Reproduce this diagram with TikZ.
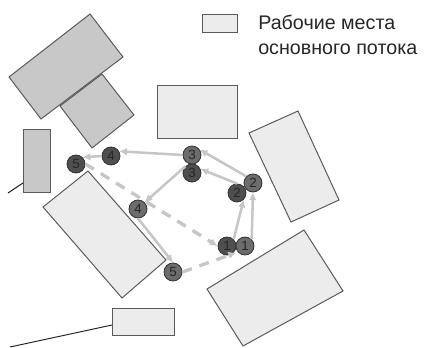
\documentclass[tikz,border=0pt]{standalone}
\usepackage{fontspec}
\setmainfont{Liberation Sans}
\usepackage{tikz}
\usetikzlibrary{calc, positioning, arrows.meta}

\definecolor{benchgray}{HTML}{C8C8C8}
\definecolor{benchpale}{HTML}{ECECEC}
\definecolor{edgegray}{HTML}{5A5A5A}
\definecolor{flowgray}{HTML}{C6C6C6}
\definecolor{stadark}{HTML}{4F4F4F}
\definecolor{stamid}{HTML}{6C6C6C}

\tikzset{
    benchlight/.style={draw=edgegray, line width=0.7pt, fill=benchpale},
    benchdark/.style={benchlight, fill=benchgray},
    lead/.style={draw=black!85, line width=0.7pt},
    station/.style={circle, draw=black!80, line width=0.6pt, inner sep=0pt,
        minimum size=0.45cm, text=black!85, font=\fontsize{9.5}{10}\selectfont},
    sta/.style={station, fill=stadark},
    stb/.style={station, fill=stamid},
    flow/.style={draw=flowgray, line width=1.8pt, -{Latex[length=5.5pt,width=5.5pt]}},
    dashflow/.style={flow, line width=2.4pt, dash pattern=on 0.25cm off 0.2cm},
    legendtext/.style={inner sep=0pt, align=left, text=black!85,
        font=\fontsize{14}{17.5}\selectfont}
}

\begin{document}
\begin{tikzpicture}[x=0.025cm, y=-0.025cm]
    \useasboundingbox (0,0) rectangle (425,347);

    % workplaces
    \draw[benchdark] (90,14) -- (123,57) -- (41,119) -- (9,77) -- cycle;
    \draw[benchdark] (102,74) -- (134,115) -- (92,148) -- (60,106) -- cycle;
    \draw[benchdark] (23,129) rectangle (50,192);
    \draw[benchlight] (157,85) rectangle (237,138);
    \draw[benchlight] (249,133) -- (298,111) -- (339,200) -- (291,222) -- cycle;
    \draw[benchlight] (304,230) -- (343,291) -- (243,346) -- (207,289) -- cycle;
    \draw[benchlight] (88,171) -- (166,260) -- (122,298) -- (43,207) -- cycle;
    \draw[benchlight] (112,308) rectangle (174,335);
    \draw[lead] (8,193) -- (23,183);
    \draw[lead] (10,347) -- (112,325);

    % legend
    \draw[benchlight] (202,14) rectangle (237,32);
    \node[legendtext, anchor=north west] (legend) at (258,15) {Рабочие места\\основного потока};

    % stations
    \node[sta] (s1a) at (227,246) {1};
    \node[sta] (s2a) at (237,193) {2};
    \node[sta] (s3a) at (192,173) {3};
    \node[sta] (s4a) at (111,156) {4};
    \node[sta] (s5a) at (76,164) {5};
    \node[stb] (s1b) at (245,246) {1};
    \node[stb] (s2b) at (253,183) {2};
    \node[stb] (s3b) at (192,155) {3};
    \node[stb] (s4b) at (138,209) {4};
    \node[stb] (s5b) at (173,272) {5};

    % flows
    \draw[flow] (s1a.north east) -- (s2a.south east);
    \draw[flow] (s1b.north east) -- (s2b.south);
    \draw[flow] (s2b.north west) -- (s3b.35);
    \draw[flow] (s2a.north) -- (s3a.25);
    \draw[flow] (s3b.west) -- (s4a.30);
    \draw[flow] (s3a.north west) -- (s4b.north east);
    \draw[flow] (s4a.west) -- (s5a.north east);
    \draw[flow] (s4b.south) -- (s5b.north);
    \draw[dashflow] (s5a.east) -- (s1a.west);
    \draw[dashflow] (s5b.east) -- ($(s1a.south east)!0.5!(s1b.south west)$);
\end{tikzpicture}
\end{document}
